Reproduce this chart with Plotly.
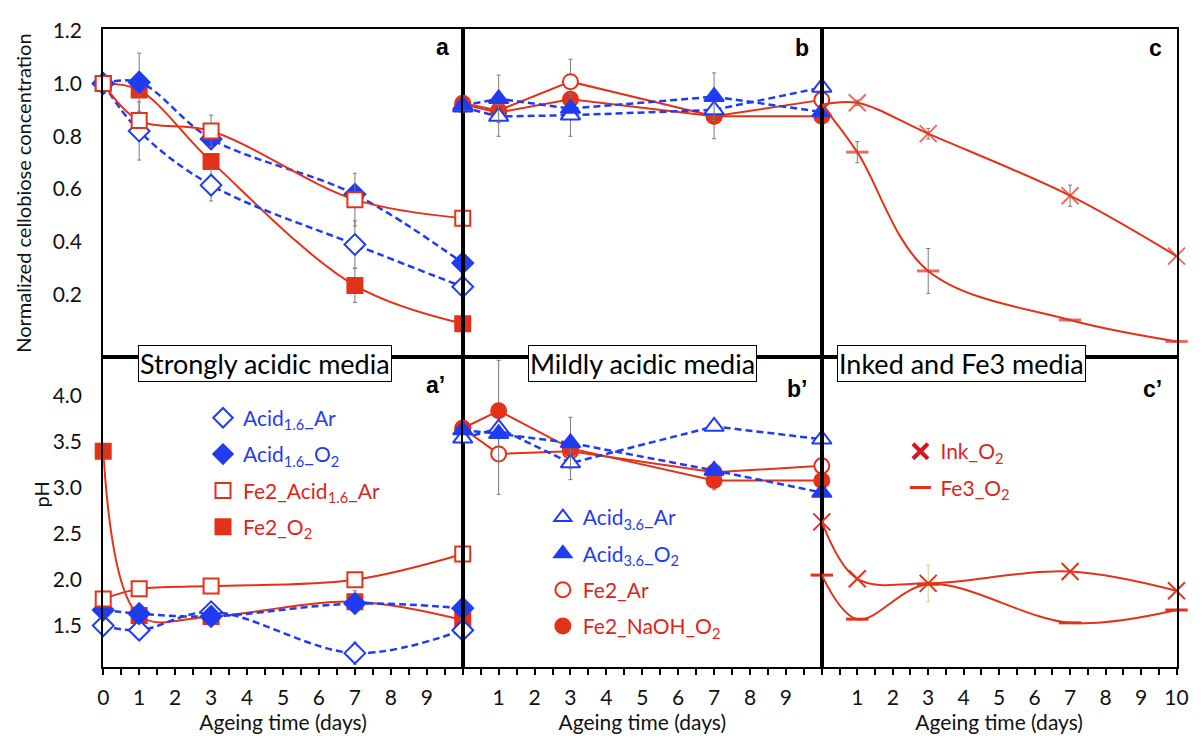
import plotly.graph_objects as go

# ---------------- data ----------------
days = [0, 1, 3, 7, 10]

# top row: normalized cellobiose concentration
a_acid16_ar = [1.00, 0.82, 0.615, 0.39, 0.23]
a_acid16_o2 = [1.00, 1.005, 0.79, 0.58, 0.32]
a_fe2_acid16_ar = [1.00, 0.86, 0.82, 0.56, 0.49]
a_fe2_o2 = [1.00, 0.975, 0.705, 0.235, 0.09]
a_err_acid16_ar = [0, 0.11, 0.06, 0.09, 0]
a_err_acid16_o2 = [0, 0.11, 0, 0, 0]
a_err_fe2_acid16_ar = [0, 0, 0.06, 0.10, 0]
a_err_fe2_o2 = [0, 0, 0, 0.065, 0]

b_acid36_ar = [0.91, 0.875, 0.88, 0.90, 0.985]
b_acid36_o2 = [0.917, 0.942, 0.905, 0.95, 0.892]
b_fe2_ar = [0.925, 0.898, 1.007, 0.876, 0.938]
b_fe2_naoh_o2 = [0.92, 0.89, 0.94, 0.876, 0.876]
b_err_acid36_ar = [0, 0.075, 0.08, 0, 0]
b_err_acid36_o2 = [0, 0.09, 0, 0.09, 0]
b_err_fe2_ar = [0, 0, 0.085, 0.085, 0]

c_ink_o2 = [0.92, 0.927, 0.81, 0.575, 0.346]
c_fe3_o2 = [0.92, 0.74, 0.29, 0.104, 0.023]
c_err_ink_o2 = [0, 0.01, 0.02, 0.04, 0]
c_err_fe3_o2 = [0, 0.04, 0.085, 0, 0]

# bottom row: pH
ap_acid16_ar = [1.50, 1.45, 1.65, 1.20, 1.45]
ap_acid16_o2 = [1.67, 1.63, 1.60, 1.74, 1.69]
ap_fe2_acid16_ar = [1.79, 1.90, 1.93, 2.00, 2.28]
ap_fe2_o2 = [3.40, 1.61, 1.60, 1.76, 1.56]
ap_err_acid16_ar = [0, 0, 0.08, 0.12, 0]
ap_err_fe2_o2 = [0, 0.1, 0, 0.12, 0]

bp_acid36_ar = [3.54, 3.65, 3.27, 3.67, 3.53]
bp_acid36_o2 = [3.63, 3.59, 3.49, 3.19, 2.95]
bp_fe2_ar = [3.65, 3.37, 3.40, 3.17, 3.24]
bp_fe2_naoh_o2 = [3.65, 3.84, 3.43, 3.08, 3.08]
bp_err_fe2_ar = [0, 0.44, 0, 0, 0]
bp_err_fe2_naoh_o2 = [0, 0.55, 0, 0.1, 0]
bp_err_acid36_o2 = [0, 0, 0.28, 0, 0]
bp_err_acid36_ar = [0, 0, 0.18, 0, 0]

cp_ink_o2 = [2.63, 2.01, 1.96, 2.09, 1.88]
cp_fe3_o2 = [2.05, 1.57, 1.95, 1.53, 1.67]
cp_err_ink_o2 = [0, 0, 0.20, 0, 0]

top_ticks = [0.2, 0.4, 0.6, 0.8, 1.0, 1.2]
bottom_ticks = [1.5, 2.0, 2.5, 3.0, 3.5, 4.0]

# ---------------- style ----------------
RED = "#E3321A"
BLUE = "#1F3CF2"
RED_T = "#D8261C"
BLUE_T = "#1F3CF2"
FONT = "Lato"
W, H = 1202, 738

def px_x(p):
    return p / W

def px_y(p):
    return 1 - p / H

XD = [(px_x(98.7), px_x(463.7)), (px_x(463.7), px_x(828.2)), (px_x(828.2), px_x(1188.3))]
YD = [(px_y(350.7), px_y(17)), (px_y(666), px_y(350.7))]

fig = go.Figure()

def axname(row, col):
    n = (row) * 3 + col + 1
    return ("x" if n == 1 else f"x{n}"), ("y" if n == 1 else f"y{n}")


def add(row, col, y, symbol, color, fill, dashed, smooth, err=None, size=15,
        lw=2, msize=None, errcolor="#7a7a7a"):
    xa, ya = axname(row, col)
    marker = dict(symbol=symbol, size=msize if msize is not None else size,
                  color=fill, line=dict(color=color, width=2))
    if symbol.startswith("line") or symbol.startswith("x-thin"):
        marker["color"] = color
        marker["line"] = dict(color=color, width=3 if symbol.startswith("line") else 2)
    tr = go.Scatter(
        x=days, y=y, xaxis=xa, yaxis=ya, mode="lines+markers",
        line=dict(color=color, width=lw, dash="7px,4px" if dashed else "solid",
                  shape="spline" if smooth else "linear", smoothing=1.0),
        marker=marker, cliponaxis=False, showlegend=False, hoverinfo="skip",
    )
    if err is not None:
        tr.error_y = dict(type="data", array=err, visible=True, color=errcolor,
                          thickness=1, width=2)
    fig.add_trace(tr)

# panel a
add(0, 0, a_fe2_o2, "square", RED, RED, False, True, a_err_fe2_o2)
add(0, 0, a_acid16_ar, "diamond", BLUE, "white", True, True, a_err_acid16_ar, size=16, lw=2.5)
add(0, 0, a_acid16_o2, "diamond", BLUE, BLUE, True, True, a_err_acid16_o2, size=16, lw=2.5)
add(0, 0, a_fe2_acid16_ar, "square", RED, "white", False, True, a_err_fe2_acid16_ar)
# panel b
add(0, 1, b_fe2_ar, "circle", RED, "white", False, False, b_err_fe2_ar)
add(0, 1, b_fe2_naoh_o2, "circle", RED, RED, False, False)
add(0, 1, b_acid36_ar, "triangle-up", BLUE, "white", True, False, b_err_acid36_ar, size=17, lw=2.5)
add(0, 1, b_acid36_o2, "triangle-up", BLUE, BLUE, True, False, b_err_acid36_o2, size=17, lw=2.5)
# panel c (no marker at day 0)
add(0, 2, c_ink_o2, "x-thin", RED, RED, False, True, c_err_ink_o2, msize=[0, 17, 17, 17, 17])
add(0, 2, c_fe3_o2, "line-ew", RED, RED, False, True, c_err_fe3_o2, msize=[0, 16, 16, 16, 16])
# panel a'
add(1, 0, ap_fe2_o2, "square", RED, RED, False, True, ap_err_fe2_o2)
add(1, 0, ap_acid16_ar, "diamond", BLUE, "white", True, True, ap_err_acid16_ar, size=16, lw=2.5)
add(1, 0, ap_acid16_o2, "diamond", BLUE, BLUE, True, True, size=16, lw=2.5)
add(1, 0, ap_fe2_acid16_ar, "square", RED, "white", False, True)
# panel b'
add(1, 1, bp_fe2_ar, "circle", RED, "white", False, False, bp_err_fe2_ar)
add(1, 1, bp_fe2_naoh_o2, "circle", RED, RED, False, False, bp_err_fe2_naoh_o2)
add(1, 1, bp_acid36_ar, "triangle-up", BLUE, "white", True, False, bp_err_acid36_ar, size=17, lw=2.5)
add(1, 1, bp_acid36_o2, "triangle-up", BLUE, BLUE, True, False, bp_err_acid36_o2, size=17, lw=2.5)
# panel c'
add(1, 2, cp_ink_o2, "x-thin", RED, RED, False, True, cp_err_ink_o2, msize=17, errcolor="#c9d18f")
add(1, 2, cp_fe3_o2, "line-ew", RED, RED, False, True, msize=16)

# ---------------- legends (marker-only entries) ----------------
def leg(name, symbol, color, fill, legend, group, lwidth=2, size=15):
    fig.add_trace(go.Scatter(
        x=[None], y=[None], mode="markers", name=name, legend=legend,
        legendgroup=group,
        marker=dict(symbol=symbol, size=size, color=fill, line=dict(color=color, width=lwidth)),
        showlegend=True, hoverinfo="skip"))

def blue(t):
    return f'<span style="color:{BLUE_T}">{t}</span>'

def red(t):
    return f'<span style="color:{RED_T}">{t}</span>'

leg(blue("Acid<sub>1.6</sub>_Ar"), "diamond", BLUE, "white", "legend", "g1")
leg(blue("Acid<sub>1.6</sub>_O<sub>2</sub>"), "diamond", BLUE, BLUE, "legend", "g2")
leg(red("Fe2_Acid<sub>1.6</sub>_Ar"), "square", RED, "white", "legend", "g3")
leg(red("Fe2_O<sub>2</sub>"), "square", RED, RED, "legend", "g4")

leg(blue("Acid<sub>3.6</sub>_Ar"), "triangle-up", BLUE, "white", "legend2", "h1")
leg(blue("Acid<sub>3.6</sub>_O<sub>2</sub>"), "triangle-up", BLUE, BLUE, "legend2", "h2")
leg(red("Fe2_Ar"), "circle", RED, "white", "legend2", "h3")
leg(red("Fe2_NaOH_O<sub>2</sub>"), "circle", RED, RED, "legend2", "h4")

leg(red("Ink_O<sub>2</sub>"), "x-thin", "#D8141C", "#D8141C", "legend3", "k1", lwidth=4)
leg(red("Fe3_O<sub>2</sub>"), "line-ew", RED, RED, "legend3", "k2", lwidth=3)

legend_common = dict(bgcolor="rgba(0,0,0,0)", borderwidth=0, font=dict(family=FONT, size=21),
                     xanchor="left", yanchor="top", tracegroupgap=6, itemclick=False,
                     itemdoubleclick=False)

# ---------------- axes ----------------
layout = dict(
    width=W, height=H, margin=dict(l=0, r=0, t=0, b=0),
    paper_bgcolor="white", plot_bgcolor="white",
    font=dict(family=FONT, size=20, color="#111"),
    showlegend=True,
    legend=dict(x=px_x(200), y=px_y(392), **legend_common),
    legend2=dict(x=px_x(545), y=px_y(493), **legend_common),
    legend3=dict(x=px_x(908), y=px_y(426), **legend_common),
)

for row in range(2):
    for col in range(3):
        n = row * 3 + col + 1
        xk = "xaxis" if n == 1 else f"xaxis{n}"
        yk = "yaxis" if n == 1 else f"yaxis{n}"
        yref = "y" if n == 1 else f"y{n}"
        xref = "x" if n == 1 else f"x{n}"
        xax = dict(domain=list(XD[col]), range=[0, 10], anchor=yref,
                   showline=True, mirror=True, linecolor="black", linewidth=2,
                   showgrid=False, zeroline=False, fixedrange=True)
        if row == 1:
            vals = [i * 0.5 for i in range(21)]
            texts = []
            for v in vals:
                if v != int(v):
                    texts.append("")
                elif col == 0 and v == 10:
                    texts.append("")
                elif col > 0 and v == 0:
                    texts.append("")
                elif col == 1 and v == 10:
                    texts.append("")
                else:
                    texts.append(str(int(v)))
            xax.update(tickmode="array", tickvals=vals, ticktext=texts, ticks="outside",
                       ticklen=6, tickwidth=2, tickcolor="black",
                       tickfont=dict(family=FONT, size=21, color="#111"),
                       ticklabelstandoff=5,
                       title=dict(text="Ageing time (days)", font=dict(family=FONT, size=21, color="#111"),
                                  standoff=4))
        else:
            xax.update(showticklabels=False, ticks="")
        yax = dict(domain=list(YD[row]), anchor=xref, showline=True, mirror=True,
                   linecolor="black", linewidth=2, showgrid=False, zeroline=False,
                   fixedrange=True, ticks="")
        if row == 0:
            yax.update(range=[-0.036, 1.2075])
            tv = top_ticks
            tt = [f"{v:.1f}" for v in top_ticks]
        else:
            yax.update(range=[1.047, 4.426])
            tv = bottom_ticks
            tt = [f"{v:.1f}" for v in bottom_ticks]
        if col == 0:
            yax.update(tickmode="array", tickvals=tv, ticktext=tt,
                       tickfont=dict(family=FONT, size=21, color="#111"),
                       ticklabelstandoff=15)
        else:
            yax.update(showticklabels=False)
        layout[xk] = xax
        layout[yk] = yax

fig.update_layout(**layout)

# ---------------- annotations ----------------
ann = []
def panel_label(text, x, y):
    ann.append(dict(text=f"<b>{text}</b>", x=px_x(x), y=px_y(y), xref="paper", yref="paper",
                    showarrow=False, font=dict(family="Liberation Sans", size=23, color="black"),
                    xanchor="center", yanchor="middle"))

panel_label("a", 443, 36)
panel_label("b", 808, 37)
panel_label("c", 1167, 37)
panel_label("a’", 436, 379)
panel_label("b’", 803, 383)
panel_label("c’", 1164, 383)

def media_box(text, cx):
    ann.append(dict(text=text, x=px_x(cx), y=px_y(357), xref="paper", yref="paper",
                    showarrow=False, font=dict(family=FONT, size=27, color="black"),
                    xanchor="center", yanchor="middle", bgcolor="white",
                    bordercolor="black", borderwidth=1, borderpad=1))

media_box("Strongly acidic media", 262.5)
media_box("Mildly acidic media", 646.3)
media_box("Inked and Fe3 media", 970.3)

ann.append(dict(text="Normalized cellobiose concentration", x=px_x(17), y=px_y(184),
                xref="paper", yref="paper", showarrow=False, textangle=-90,
                font=dict(family=FONT, size=20, color="#111"), xanchor="center", yanchor="middle"))
ann.append(dict(text="pH", x=px_x(36), y=px_y(490), xref="paper", yref="paper",
                showarrow=False, textangle=-90,
                font=dict(family=FONT, size=20, color="#111"), xanchor="center", yanchor="middle"))

fig.update_layout(annotations=ann)

fig.write_html("out.html")
